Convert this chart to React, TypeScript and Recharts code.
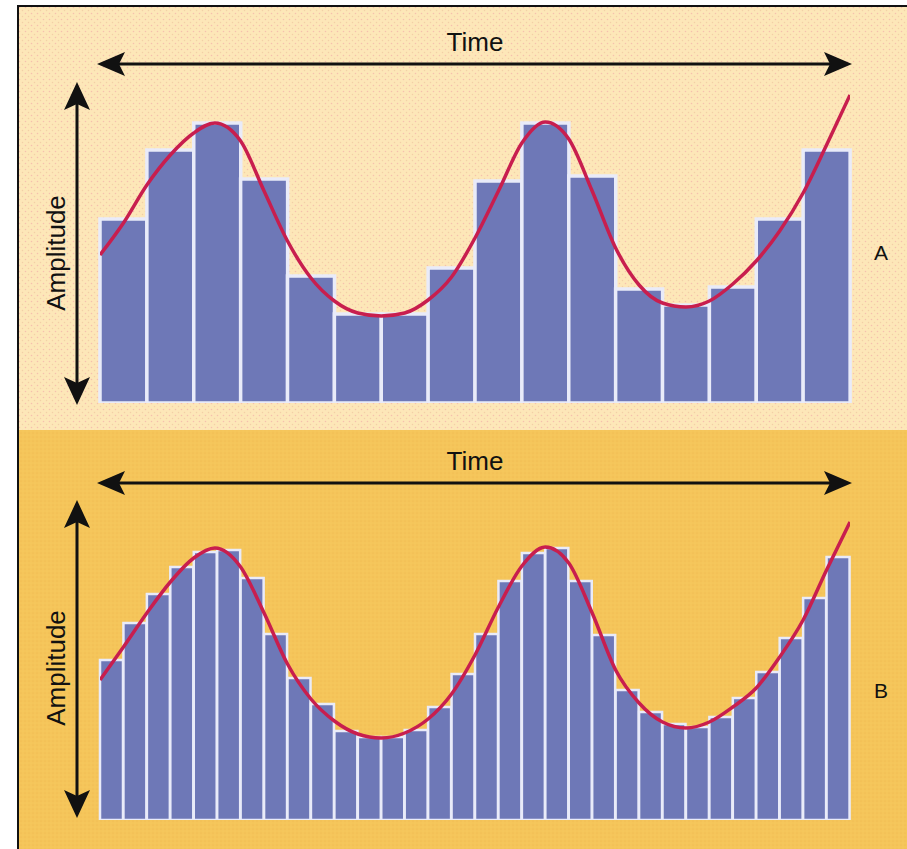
import { ComposedChart, Bar, Line, XAxis, YAxis } from "recharts";

// Panel A: 16 wide samples of the signal
const AMP_A = [184, 253, 280, 224, 127, 89, 89, 135, 222, 280, 227, 114, 98, 116, 184, 253];

// Panel B: 32 narrow samples of the same signal
const AMP_B = [
  160, 197, 226, 253, 268, 270, 242, 186, 142, 116, 89, 83, 83, 90, 113, 146,
  186, 239, 267, 272, 239, 185, 130, 108, 96, 93, 103, 122, 148, 182, 222, 263,
];

// time positions of the traced curve, in units of panel A bins
const TIME = [
  0, 0.5, 1, 1.5, 2, 2.45, 3, 3.5, 4, 4.5, 5, 5.5, 6, 6.5, 7, 7.5, 8,
  8.5, 9, 9.5, 10, 10.5, 11, 11.5, 12, 12.5, 13, 13.5, 14, 14.5, 15, 15.5, 16,
];

const SIGNAL_A = [
  148, 180, 218, 248, 270, 280, 262, 212, 162, 125, 102, 90, 87, 90, 103, 126, 165,
  212, 260, 281, 264, 212, 155, 118, 100, 96, 102, 119, 142, 172, 210, 258, 308,
];

const SIGNAL_B = [
  140, 173, 207, 238, 262, 272, 253, 207, 156, 121, 99, 86, 82, 87, 101, 126, 165,
  213, 254, 273, 257, 207, 150, 117, 98, 92, 98, 113, 132, 163, 200, 250, 298,
];

const FONT = "'Liberation Sans', Arial, Helvetica, sans-serif";
const BAR_FILL = "#6e78b7";
const BAR_EDGE = "#e9ebf9";
const CURVE = "#c81e4e";
const INK = "#111";

function HArrow({ y, x1, x2 }: { y: number; x1: number; x2: number }) {
  return (
    <g fill={INK}>
      <line x1={x1 + 20} y1={y} x2={x2 - 20} y2={y} stroke={INK} strokeWidth={3} />
      <polygon points={`${x1},${y} ${x1 + 28},${y - 12} ${x1 + 22},${y} ${x1 + 28},${y + 12}`} />
      <polygon points={`${x2},${y} ${x2 - 28},${y - 12} ${x2 - 22},${y} ${x2 - 28},${y + 12}`} />
    </g>
  );
}

function VArrow({ x, y1, y2 }: { x: number; y1: number; y2: number }) {
  return (
    <g fill={INK}>
      <line x1={x} y1={y1 + 20} x2={x} y2={y2 - 20} stroke={INK} strokeWidth={3} />
      <polygon points={`${x},${y1} ${x - 13},${y1 + 28} ${x},${y1 + 22} ${x + 13},${y1 + 28}`} />
      <polygon points={`${x},${y2} ${x - 13},${y2 - 28} ${x},${y2 - 22} ${x + 13},${y2 - 28}`} />
    </g>
  );
}

interface PanelProps {
  top: number;
  height: number;
  amps: number[];
  signal: number[];
  edge: number;
  marginTop: number;
  marginBottom: number;
}

function Panel({ top, height, amps, signal, edge, marginTop, marginBottom }: PanelProps) {
  const bars = amps.map((v, i) => ({ bin: i + 1, v }));
  const curve = TIME.map((t, i) => ({ t, v: signal[i] }));
  return (
    <ComposedChart
      width={888}
      height={height}
      data={bars}
      margin={{ top: marginTop, right: 57, bottom: marginBottom, left: 81 }}
      barCategoryGap={0}
      style={{ position: "absolute", left: 19, top }}
    >
      <XAxis xAxisId="bins" dataKey="bin" hide />
      <XAxis xAxisId="time" dataKey="t" type="number" domain={[0, 16]} allowDataOverflow hide />
      <YAxis domain={[0, 320]} allowDataOverflow hide />
      <Bar
        xAxisId="bins"
        dataKey="v"
        fill={BAR_FILL}
        stroke={BAR_EDGE}
        strokeWidth={edge}
        isAnimationActive={false}
      />
      <Line
        xAxisId="time"
        data={curve}
        dataKey="v"
        type="monotone"
        dot={false}
        stroke={CURVE}
        strokeWidth={3.5}
        isAnimationActive={false}
      />
    </ComposedChart>
  );
}

export default function App() {
  return (
    <div style={{ position: "absolute", left: 0, top: 0, width: 907, height: 849, overflow: "hidden", background: "#fff" }}>
      <svg width={907} height={849} style={{ position: "absolute", left: 0, top: 0 }}>
        <defs>
          <pattern id="dotsA" width={6} height={6} patternUnits="userSpaceOnUse">
            <rect width={6} height={6} fill="#fde7b8" />
            <circle cx={1.5} cy={1.5} r={0.75} fill="#f6bfae" />
            <circle cx={4.5} cy={4.5} r={0.75} fill="#f3cfa6" />
          </pattern>
          <pattern id="dotsB" width={4} height={4} patternUnits="userSpaceOnUse">
            <rect width={4} height={4} fill="#f5c55a" />
            <circle cx={1} cy={1} r={0.6} fill="#eeb650" />
            <circle cx={3} cy={3} r={0.6} fill="#f8cc62" />
          </pattern>
        </defs>
        <rect x={19} y={7} width={888} height={423} fill="url(#dotsA)" />
        <rect x={19} y={430} width={888} height={419} fill="url(#dotsB)" />
        <line x1={17} y1={6} x2={907} y2={6} stroke={INK} strokeWidth={2} />
        <line x1={18} y1={5} x2={18} y2={849} stroke={INK} strokeWidth={2} />

        <g fontFamily={FONT} fill={INK}>
          <text x={475} y={51} fontSize={26} textAnchor="middle">Time</text>
          <text x={65} y={253} fontSize={26} textAnchor="middle" transform="rotate(-90 65 253)">Amplitude</text>
          <text x={881} y={260} fontSize={21} textAnchor="middle">A</text>

          <text x={475} y={470} fontSize={26} textAnchor="middle">Time</text>
          <text x={65} y={668} fontSize={26} textAnchor="middle" transform="rotate(-90 65 668)">Amplitude</text>
          <text x={881} y={698} fontSize={21} textAnchor="middle">B</text>
        </g>

        <HArrow y={64} x1={97} x2={852} />
        <VArrow x={77} y1={82} y2={405} />
        <HArrow y={483} x1={97} x2={852} />
        <VArrow x={77} y1={500} y2={818} />
      </svg>

      <Panel top={8} height={422} amps={AMP_A} signal={SIGNAL_A} edge={3.5} marginTop={75} marginBottom={27} />
      <Panel top={430} height={419} amps={AMP_B} signal={SIGNAL_B} edge={2.5} marginTop={70} marginBottom={29} />
    </div>
  );
}
